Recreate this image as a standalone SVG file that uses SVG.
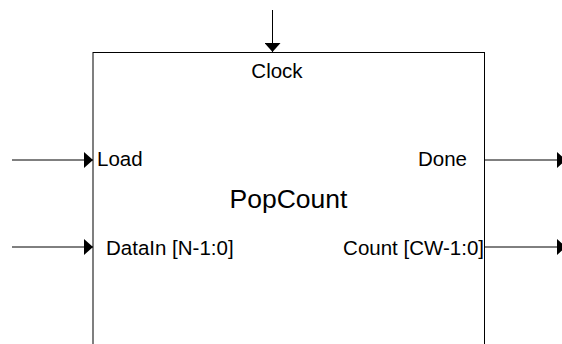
<svg xmlns="http://www.w3.org/2000/svg" width="562" height="344" viewBox="0 0 562 344">
  <style>
    .block { fill: #ffffff; stroke: #000000; stroke-width: 1; }
    .port { font-family: "Liberation Sans", Arial, sans-serif; font-size: 20.5px; fill: #000000; }
    .title { font-family: "Liberation Sans", Arial, sans-serif; font-size: 26.5px; fill: #000000; }
    .wire { fill: none; stroke: #000000; stroke-width: 1; }
  </style>
  <defs>
    <marker id="arrow" markerUnits="userSpaceOnUse" markerWidth="9" markerHeight="16" viewBox="0 0 9 16" refX="9" refY="8" orient="auto">
      <path d="M0,0 L9,8 L0,16 Z" fill="#000000"/>
    </marker>
  </defs>
  <rect width="562" height="344" fill="#ffffff"/>

  <!-- PopCount block; its bottom edge lies below the visible area -->
  <g id="popcount">
    <rect class="block" x="93" y="52.5" width="391.5" height="310"/>
    <text class="title" x="288.5" y="208" text-anchor="middle">PopCount</text>
    <text class="port" x="277" y="78" text-anchor="middle">Clock</text>
    <text class="port" x="97" y="166">Load</text>
    <text class="port" x="106" y="255">DataIn [N-1:0]</text>
    <text class="port" x="467" y="166" text-anchor="end">Done</text>
    <text class="port" x="484" y="255" text-anchor="end">Count [CW-1:0]</text>
  </g>

  <!-- port wires -->
  <g id="connectors">
    <path class="wire" d="M272.5,10 V52" marker-end="url(#arrow)"/>
    <path class="wire" d="M12,160 H93" marker-end="url(#arrow)"/>
    <path class="wire" d="M12,247 H93" marker-end="url(#arrow)"/>
    <path class="wire" d="M484.5,160 H566" marker-end="url(#arrow)"/>
    <path class="wire" d="M484.5,247 H566" marker-end="url(#arrow)"/>
  </g>
</svg>
